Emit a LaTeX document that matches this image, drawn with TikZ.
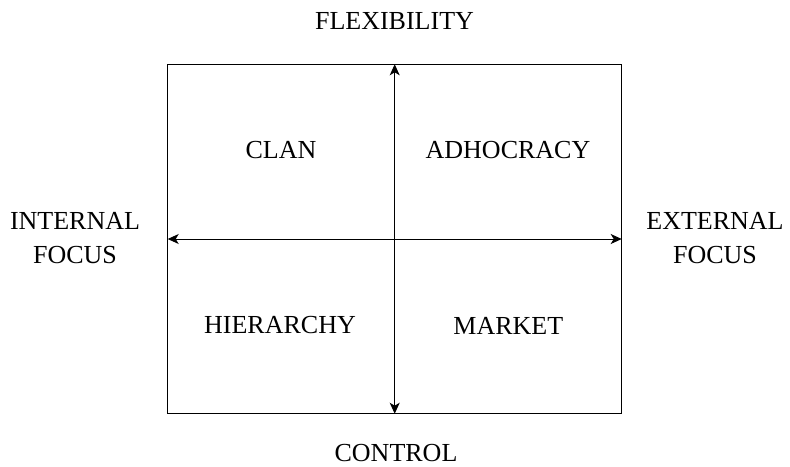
\documentclass[tikz,border=0pt]{standalone}
\usepackage{fontspec}
\setmainfont{Liberation Serif}
\usetikzlibrary{arrows.meta}
\tikzset{
  lbl/.style={font=\fontsize{13}{17}\selectfont, align=center},
  axis/.style={line width=0.5pt, {Stealth[length=5.5pt,width=5pt,inset=1.5pt]}-{Stealth[length=5.5pt,width=5pt,inset=1.5pt]}}
}
\begin{document}
\begin{tikzpicture}[x=0.5pt,y=-0.5pt]
\useasboundingbox (0,0) rectangle (790,466);
\coordinate (nw) at (167.7,64.3);
\coordinate (se) at (621.7,413.7);
\coordinate (t) at (394.7,64.3);
\coordinate (b) at (394.7,413.7);
\coordinate (l) at (167.7,239);
\coordinate (r) at (621.7,239);

\draw[line width=0.6pt] (nw) rectangle (se);
\draw[axis] (t)--(b);
\draw[axis] (l)--(r);
\node (flex) at (394.5,20.7) [lbl] {FLEXIBILITY};
\node (ctrl) at (396,453.5) [lbl] {CONTROL};
\node (int) at (75,238.5) [lbl] {INTERNAL\\FOCUS};
\node (ext) at (715,238.5) [lbl] {EXTERNAL\\FOCUS};
\node (clan) at (281,150) [lbl] {CLAN};
\node (adho) at (508,150) [lbl] {ADHOCRACY};
\node (hier) at (280,325.5) [lbl] {HIERARCHY};
\node (mkt) at (508.3,325.5) [lbl] {MARKET};
\end{tikzpicture}
\end{document}
